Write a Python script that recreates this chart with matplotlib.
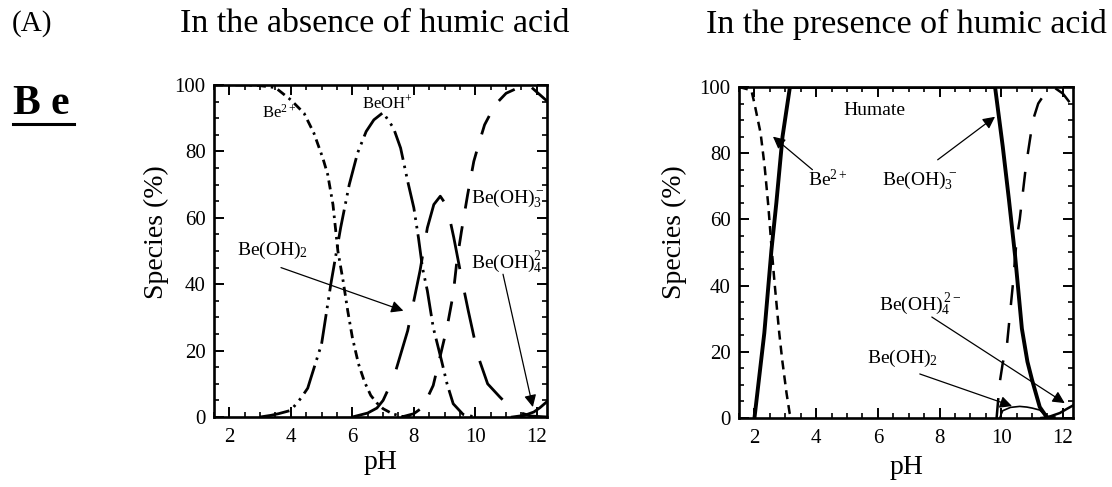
import matplotlib
matplotlib.use("Agg")
import matplotlib.pyplot as plt
from matplotlib.ticker import MultipleLocator
from matplotlib.lines import Line2D

plt.rcParams['font.family'] = ['Liberation Serif', 'DejaVu Serif']
plt.rcParams['mathtext.fontset'] = 'custom'
plt.rcParams['mathtext.rm'] = 'Liberation Serif'
plt.rcParams['mathtext.it'] = 'Liberation Serif:italic'
plt.rcParams['mathtext.bf'] = 'Liberation Serif:bold'

# ---------------- data: absence of humic acid ----------------
a_be2_ph = [1.5, 2.5, 3.0, 3.5, 4.0, 4.43, 4.75, 5.04, 5.2, 5.37, 5.53, 5.7, 5.85, 6.0, 6.2, 6.4, 6.6, 6.8, 7.0, 7.3, 7.6, 8.0]
a_be2_val = [100, 100, 99.8, 99.2, 95.5, 91.5, 85.5, 78, 73, 64, 50, 41, 32, 24, 16, 10.5, 6.5, 4.2, 2.5, 1.0, 0.2, 0]

a_beoh_ph = [3.0, 3.35, 3.6, 4.0, 4.33, 4.55, 4.65, 5.0, 5.3, 5.62, 5.9, 6.17, 6.45, 6.7, 7.0, 7.34, 7.57, 7.8, 8.0, 8.15, 8.28, 8.44, 8.63, 8.9, 9.08, 9.28, 9.6, 10.0]
a_beoh_val = [0, 0.5, 1, 2, 5.7, 8.7, 11.7, 22, 40, 57, 70, 79.5, 86, 89.5, 91.7, 87, 81, 71, 63, 54, 45, 38, 27, 17, 10, 4, 0.8, 0]

a_beoh2_ph = [6.0, 6.5, 6.8, 7.0, 7.35, 7.8, 8.0, 8.2, 8.44, 8.65, 8.86, 9.08, 9.3, 9.57, 9.77, 10.1, 10.4, 10.8, 11.06, 11.4, 11.8, 12.35]
a_beoh2_val = [0, 1.2, 2.7, 5, 12, 26, 35, 44, 57, 64, 66.5, 63.5, 54, 41, 32, 18, 10, 6, 3.6, 1.5, 0.3, 0]

a_beoh3_ph = [7.6, 8.0, 8.3, 8.63, 8.9, 9.08, 9.28, 9.4, 9.55, 9.75, 9.95, 10.12, 10.3, 10.64, 11.0, 11.4, 11.8, 12.35]
a_beoh3_val = [0, 1, 3, 9.5, 20, 27, 37, 47, 56, 67, 77, 82.5, 88, 94, 97.5, 99.2, 99.5, 95]

a_beoh4_ph = [11.2, 11.6, 11.9, 12.1, 12.35]
a_beoh4_val = [0, 0.5, 1.5, 2.8, 4.8]

# ---------------- data: presence of humic acid ----------------
p_humate_ph = [2.0, 2.32, 2.55, 2.71, 2.91, 3.15, 9.8, 10.05, 10.25, 10.45, 10.67, 10.85, 11.0, 11.25, 11.48, 11.7]
p_humate_val = [0, 25.7, 50.7, 65, 85, 100, 100, 82, 66, 49, 27, 17, 11.5, 3.3, 0.2, 0]

p_be2_ph = [1.5, 1.9, 2.0, 2.2, 2.33, 2.45, 2.55, 2.65, 2.8, 2.9, 3.04, 3.14, 3.2]
p_be2_val = [100, 99, 95, 86, 76, 64, 52, 41, 26, 17.5, 7.5, 1.5, 0]

p_beoh3_ph = [9.85, 9.95, 10.05, 10.18, 10.28, 10.38, 10.5, 10.6, 10.7, 10.8, 10.93, 11.03, 11.2, 11.45, 11.74, 12.0, 12.33]
p_beoh3_val = [0, 10.6, 16.6, 21.5, 31, 40.5, 54, 60, 68, 76, 84, 90, 95, 98.5, 99.7, 98, 94]

p_beoh2_ph = [9.95, 10.05, 10.3, 10.6, 10.83, 11.0, 11.25, 11.45, 11.6]
p_beoh2_val = [0, 2.2, 3.2, 3.5, 3.3, 3.0, 2.4, 0.6, 0]

p_beoh4_ph = [11.3, 11.5, 11.9, 12.1, 12.33]
p_beoh4_val = [0, 0.2, 1.5, 2.6, 3.8]

x_ticks = [2, 4, 6, 8, 10, 12]
y_ticks = [0, 20, 40, 60, 80, 100]

# ---------------- figure ----------------
fig = plt.figure(figsize=(11.12, 4.87), dpi=100)
ax1 = fig.add_axes([0.1924, 0.1437, 0.2995, 0.6818])
ax2 = fig.add_axes([0.6646, 0.1417, 0.3004, 0.6797])

PX = 100 / 72.0


def dash(lw, *px):
    return (0, tuple(p / PX / lw for p in px))


def style_axes(ax, xmax, xpad):
    ax.set_xlim(1.5, xmax)
    ax.set_ylim(0, 100)
    ax.set_xticks(x_ticks)
    ax.set_yticks(y_ticks)
    ax.xaxis.set_minor_locator(MultipleLocator(0.5))
    ax.yaxis.set_minor_locator(MultipleLocator(5))
    ax.tick_params(which='both', direction='in', top=True, right=True)
    ax.tick_params(which='major', length=7, width=1.4, labelsize=15, pad=6)
    ax.tick_params(axis='x', which='major', pad=8)
    ax.tick_params(which='minor', length=3.5, width=1.2)
    for s in ax.spines.values():
        s.set_linewidth(1.9)
    ax.set_xlabel('pH', fontsize=20, labelpad=xpad)
    ax.set_ylabel('Species (%)', fontsize=20)


style_axes(ax1, 12.33, 2)
style_axes(ax2, 12.33, 5)
ax1.yaxis.set_label_coords(-0.135, 0.557)
ax2.yaxis.set_label_coords(-0.155, 0.56)

lw = 2.0
ax1.plot(a_be2_ph, a_be2_val, color='black', lw=lw, linestyle=dash(lw, 9, 5, 2.5, 5))
ax1.plot(a_beoh_ph, a_beoh_val, color='black', lw=lw, linestyle=dash(lw, 30, 6, 2.5, 6, 2.5, 6))
ax1.plot(a_beoh2_ph, a_beoh2_val, color='black', lw=lw, linestyle=dash(lw, 46, 24))
ax1.plot(a_beoh3_ph, a_beoh3_val, color='black', lw=lw, linestyle=dash(lw, 20, 18))
ax1.plot(a_beoh4_ph, a_beoh4_val, color='black', lw=lw, linestyle='-')

lab = 14
ax1.text(3.62, 91.5, 'Be$^{2+}$', fontsize=12, ha='center', va='center')
ax1.text(7.15, 94.6, 'BeOH$^{+}$', fontsize=12, ha='center', va='center')
ax1.text(9.85, 66, 'Be(OH)$_3^-$', fontsize=lab, ha='left', va='center')
ax1.text(3.42, 50.3, 'Be(OH)$_2$', fontsize=lab, ha='center', va='center')
ax1.text(9.85, 46.7, 'Be(OH)$_4^2$', fontsize=lab, ha='left', va='center')

arrow = dict(arrowstyle='-|>', color='black', lw=0.9, mutation_scale=18, shrinkA=0, shrinkB=0)
ax1.annotate('', xy=(7.66, 32), xytext=(3.68, 45), arrowprops=arrow)
ax1.annotate('', xy=(11.87, 3), xytext=(10.9, 43), arrowprops=arrow)

ax2.plot(p_humate_ph, p_humate_val, color='black', lw=2.8, linestyle='-')
ax2.plot(p_be2_ph, p_be2_val, color='black', lw=1.8, linestyle=dash(1.8, 9, 6))
ax2.plot(p_beoh3_ph, p_beoh3_val, color='black', lw=1.8, linestyle=dash(1.8, 20, 18))
ax2.plot(p_beoh2_ph, p_beoh2_val, color='black', lw=1.2, linestyle='-')
ax2.plot(p_beoh4_ph, p_beoh4_val, color='black', lw=1.8, linestyle='-')

ax2.text(5.9, 93, 'Humate', fontsize=14, ha='center', va='center')
ax2.text(4.37, 72, 'Be$^{2+}$', fontsize=lab, ha='center', va='center')
ax2.text(7.36, 72, 'Be(OH)$_3^{\\,-}$', fontsize=lab, ha='center', va='center')
ax2.text(7.36, 34.5, 'Be(OH)$_4^{\\,2-}$', fontsize=lab, ha='center', va='center')
ax2.text(6.8, 18, 'Be(OH)$_2$', fontsize=lab, ha='center', va='center')

ax2.annotate('', xy=(2.6, 85), xytext=(3.88, 75), arrowprops=arrow)
ax2.annotate('', xy=(9.8, 91), xytext=(7.94, 78), arrowprops=arrow)
ax2.annotate('', xy=(12.06, 4.5), xytext=(7.75, 30.5), arrowprops=arrow)
ax2.annotate('', xy=(10.35, 3.6), xytext=(7.36, 13.3), arrowprops=arrow)

# ---------------- headings ----------------
fig.text(375 / 1112, 1 - 24 / 487, 'In the absence of humic acid', fontsize=24.5, ha='center', va='center')
fig.text(906 / 1112, 1 - 24 / 487, 'In the presence of humic acid', fontsize=24.5, ha='center', va='center')
fig.text(12 / 1112, 1 - 24 / 487, '(A)', fontsize=21, ha='left', va='center')
fig.text(13 / 1112, 1 - 104 / 487, 'B e', fontsize=30, fontweight='bold', ha='left', va='center')
fig.add_artist(Line2D([13 / 1112, 74 / 1112], [1 - 124 / 487, 1 - 124 / 487], color='black', lw=2.2))

fig.savefig('out.png', dpi=100)
